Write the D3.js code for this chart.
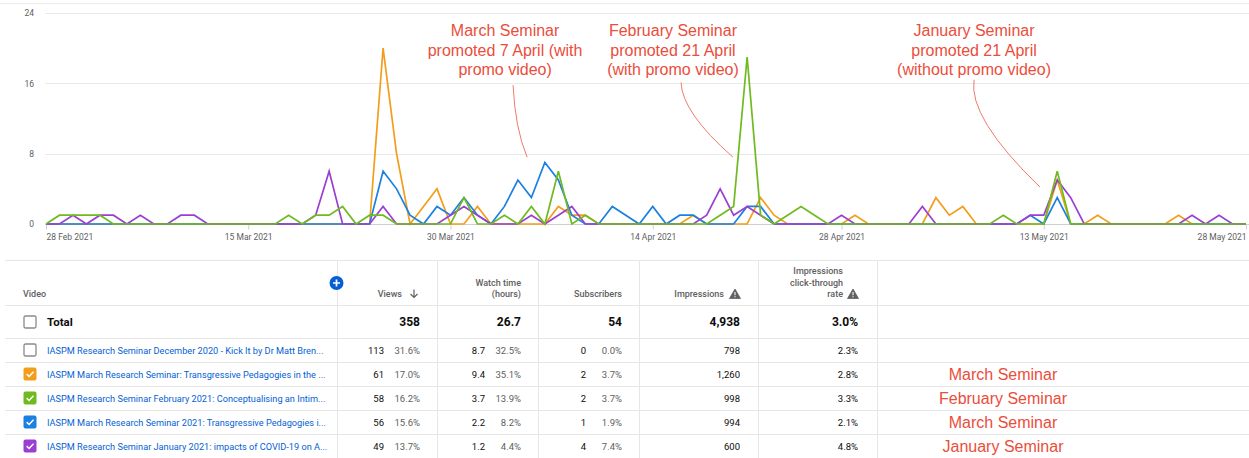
<!DOCTYPE html>
<html>
<head>
<meta charset="utf-8">
<script src="https://cdn.jsdelivr.net/npm/d3@7"></script>
<style>
  body { margin: 0; background: #fff; }
  svg { display: block; }
</style>
</head>
<body>
<svg id="chart" width="1249" height="458"></svg>
<script>
// daily views, 28 Feb 2021 .. 28 May 2021 (90 days)
const marchViews = [
  0,0,0,0,0,0,0,0,0,0,
  0,0,0,0,0,0,0,0,0,0,
  0,0,0,0,0,20,8,0,2,4,
  0,0,2,0,0,0,0,0,2,1,
  1,0,0,0,0,0,0,0,1,0,
  0,0,0,3,1,0,0,0,0,0,
  1,0,0,0,0,0,3,1,2,0,
  0,0,0,0,0,5,0,0,1,0,
  0,0,0,0,1,0,0,0,0,0
];
const februaryViews = [
  0,1,1,1,1,0,0,0,0,0,
  0,0,0,0,0,0,0,0,1,0,
  1,1,2,0,1,1,0,0,0,0,
  0,3,0,0,1,0,2,0,6,0,
  1,0,0,0,0,0,0,0,0,0,
  1,2,19,1,0,1,2,1,0,0,
  0,0,0,0,0,0,0,0,0,0,
  0,1,0,0,0,6,0,0,0,0,
  0,0,0,0,0,0,0,0,0,0
];
const march2021Views = [
  0,0,0,0,0,0,0,0,0,0,
  0,0,0,0,0,0,0,0,0,0,
  0,0,0,0,0,6,4,1,0,2,
  1,3,1,0,2,5,3,7,5,1,
  0,0,2,1,0,2,0,1,1,0,
  0,0,2,2,0,0,0,0,0,0,
  0,0,0,0,0,0,0,0,0,0,
  0,0,0,1,0,3,0,0,0,0,
  0,0,0,0,0,0,0,0,0,0
];
const januaryViews = [
  0,0,1,0,1,1,0,1,0,0,
  1,1,0,0,0,0,0,0,0,0,
  1,6,0,0,0,2,0,0,0,0,
  1,2,1,0,0,0,1,0,1,2,
  0,0,0,0,0,0,0,0,0,1,
  4,1,2,1,0,0,0,0,0,1,
  0,0,0,0,0,2,0,0,0,0,
  0,0,0,1,1,5,3,0,0,0,
  0,0,0,0,0,1,0,1,0,0
];

const xTickDates = ["2021-02-28","2021-03-15","2021-03-30","2021-04-14","2021-04-28","2021-05-13","2021-05-28"];
const yTickValues = [0, 8, 16, 24];

// table
const videoTitles = [
  "IASPM Research Seminar December 2020 - Kick It by Dr Matt Bren...",
  "IASPM March Research Seminar: Transgressive Pedagogies in the ...",
  "IASPM Research Seminar February 2021: Conceptualising an Intim...",
  "IASPM March Research Seminar 2021: Transgressive Pedagogies i...",
  "IASPM Research Seminar January 2021: impacts of COVID-19 on A..."
];
const views = [113, 61, 58, 56, 49];
const viewsShare = ["31.6%", "17.0%", "16.2%", "15.6%", "13.7%"];
const watchHours = ["8.7", "9.4", "3.7", "2.2", "1.2"];
const watchShare = ["32.5%", "35.1%", "13.9%", "8.2%", "4.4%"];
const subscribers = [0, 2, 2, 1, 4];
const subscribersShare = ["0.0%", "3.7%", "3.7%", "1.9%", "7.4%"];
const impressions = [798, 1260, 998, 994, 600];
const ctr = ["2.3%", "2.8%", "3.3%", "2.1%", "4.8%"];
const totals = ["358", "26.7", "54", "4,938", "3.0%"];
const rowNotes = ["", "March Seminar", "February Seminar", "March Seminar", "January Seminar"];

const annotations = [
  { lines: ["March Seminar", "promoted 7 April (with", "promo video)"], center: 34.05,
    from: [34.64, 15.8], ctrl: [34.79, 10.9], to: [35.68, 7.6] },
  { lines: ["February Seminar", "promoted 21 April", "(with promo video)"], center: 46.5,
    from: [47.1, 16.1], ctrl: [47.17, 12.7], to: [50.95, 7.6] },
  { lines: ["January Seminar", "promoted 21 April", "(without promo video)"], center: 68.83,
    from: [68.83, 16.4], ctrl: [68.38, 12.1], to: [73.72, 4.2] }
];

const ORANGE = "#f29e1c", GREEN = "#6fba1f", BLUE = "#1b80e0", PURPLE = "#9a3fd2";
const NOTE_RED = "#eb4d3b";
const GREY = "#606060";

const svg = d3.select("#chart");
svg.append("rect").attr("width", 1249).attr("height", 458).attr("fill", "#fff");

const day0 = new Date(Date.UTC(2021, 1, 28));
const dates = d3.range(90).map(i => d3.utcDay.offset(day0, i));
const dayPos = d => new Date(+day0 + d * 864e5);

const x = d3.scaleUtc().domain([day0, dates[89]]).range([46, 1246]);
const y = d3.scaleLinear().domain([0, 24]).range([224, 13]);

// top border
svg.append("line").attr("x1", 0).attr("x2", 1249).attr("y1", 3.5).attr("y2", 3.5)
  .attr("stroke", "#ededed");

// grid
svg.append("g").selectAll("line").data(yTickValues).join("line")
  .attr("x1", 45).attr("x2", 1249)
  .attr("y1", d => Math.round(y(d)) + 0.5).attr("y2", d => Math.round(y(d)) + 0.5)
  .attr("stroke", d => d === 0 ? "#cfcfcf" : "#e9e9e9");

// y axis
const yAxis = svg.append("g").attr("transform", "translate(37,0)")
  .call(d3.axisLeft(y).tickValues(yTickValues).tickSize(0).tickPadding(3));
yAxis.select(".domain").remove();
yAxis.selectAll("text").attr("fill", GREY).style("font", "8.5px Roboto");

// x axis
const parse = d3.utcParse("%Y-%m-%d");
const xAxis = svg.append("g").attr("transform", "translate(0,224.5)")
  .call(d3.axisBottom(x).tickValues(xTickDates.map(parse))
    .tickFormat(d3.utcFormat("%-d %b %Y")).tickSize(5).tickPadding(4));
xAxis.select(".domain").remove();
xAxis.selectAll("line").attr("stroke", "#d0d0d0");
xAxis.selectAll("text").attr("fill", GREY).style("font", "8.5px Roboto")
  .attr("text-anchor", (d, i) => i === 0 ? "start" : i === xTickDates.length - 1 ? "end" : "middle");

// series
const series = [
  { values: marchViews, color: ORANGE },
  { values: march2021Views, color: BLUE },
  { values: januaryViews, color: PURPLE },
  { values: februaryViews, color: GREEN }
];
const line = d3.line().x((d, i) => x(dates[i])).y(d => y(d));
svg.append("g").selectAll("path").data(series).join("path")
  .attr("d", s => line(s.values))
  .attr("fill", "none")
  .attr("stroke", s => s.color)
  .attr("stroke-width", 1.7)
  .attr("stroke-linejoin", "miter");

// annotations
const ann = svg.append("g");
annotations.forEach(a => {
  const t = ann.append("text").attr("text-anchor", "middle")
    .attr("fill", NOTE_RED).style("font", "16px 'Liberation Sans', Arial, sans-serif");
  a.lines.forEach((l, i) => {
    t.append("tspan").attr("x", x(dayPos(a.center))).attr("y", 36 + i * 19.5).text(l);
  });
  const p = d3.path();
  p.moveTo(x(dayPos(a.from[0])), y(a.from[1]));
  p.quadraticCurveTo(x(dayPos(a.ctrl[0])), y(a.ctrl[1]), x(dayPos(a.to[0])), y(a.to[1]));
  ann.append("path").attr("d", p.toString()).attr("fill", "none")
    .attr("stroke", "#f07a6c").attr("stroke-width", 1);
});

// ---------------- table ----------------
const tbl = svg.append("g");
const hLines = [260, 305, 338, 362, 386, 410, 434];
tbl.selectAll("line.h").data(hLines).join("line").attr("class", "h")
  .attr("x1", 5).attr("x2", 1249).attr("y1", d => d + 0.5).attr("y2", d => d + 0.5)
  .attr("stroke", "#e6e6e6");
const vLines = [337, 437, 538, 639, 758, 877];
tbl.selectAll("line.v").data(vLines).join("line").attr("class", "v")
  .attr("x1", d => d + 0.5).attr("x2", d => d + 0.5).attr("y1", 260).attr("y2", 458)
  .attr("stroke", "#e6e6e6");

const hdrFont = "500 9px Roboto";
function hText(xp, yp, s, anchor) {
  tbl.append("text").attr("x", xp).attr("y", yp).attr("text-anchor", anchor || "end")
    .attr("fill", GREY).style("font", hdrFont).text(s);
}
hText(23, 297, "Video", "start");
hText(402, 297, "Views");
hText(521, 286, "Watch time");
hText(521, 297, "(hours)");
hText(622, 297, "Subscribers");
hText(724, 297, "Impressions");
hText(843, 274, "Impressions");
hText(843, 286, "click-through");
hText(843, 297, "rate");

// sort arrow
tbl.append("path").attr("d", "M414,289.5V297.5M410.5,294L414,297.5L417.5,294")
  .attr("fill", "none").attr("stroke", GREY).attr("stroke-width", 1.2);
// warning triangles
[735, 853].forEach(cx => {
  tbl.append("path").attr("d", `M${cx},289L${cx + 5.5},298.5L${cx - 5.5},298.5Z`)
    .attr("fill", GREY).attr("stroke", GREY).attr("stroke-width", 0.8).attr("stroke-linejoin", "round");
  tbl.append("line").attr("x1", cx).attr("x2", cx).attr("y1", 292).attr("y2", 295.3)
    .attr("stroke", "#fff").attr("stroke-width", 1.1);
  tbl.append("rect").attr("x", cx - 0.55).attr("y", 296.2).attr("width", 1.1).attr("height", 1.1).attr("fill", "#fff");
});
// add-column button
tbl.append("circle").attr("cx", 336.5).attr("cy", 283).attr("r", 7).attr("fill", "#065fd4");
tbl.append("path").attr("d", "M336.5,279.5V286.5M333,283H340")
  .attr("stroke", "#fff").attr("stroke-width", 1.7);

function checkbox(cy, color) {
  const g = tbl.append("g").attr("transform", `translate(23.5,${cy - 6.5})`);
  if (color) {
    g.append("rect").attr("width", 13).attr("height", 13).attr("rx", 2).attr("fill", color);
    g.append("path").attr("d", "M3.2,6.6L5.6,9L10,4.3").attr("fill", "none")
      .attr("stroke", "#fff").attr("stroke-width", 1.5);
  } else {
    g.append("rect").attr("x", 0.5).attr("y", 0.5).attr("width", 12).attr("height", 12).attr("rx", 1.5)
      .attr("fill", "#fff").attr("stroke", "#8a8a8a").attr("stroke-width", 1.3);
  }
}

// total row
checkbox(322, null);
tbl.append("text").attr("x", 47).attr("y", 326).attr("fill", "#0d0d0d")
  .style("font", "bold 11.5px Roboto").text("Total");
[420, 521, 622, 740, 858].forEach((xp, i) => {
  tbl.append("text").attr("x", xp).attr("y", 326).attr("text-anchor", "end")
    .attr("fill", "#0d0d0d").style("font", "bold 12px Roboto").text(totals[i]);
});

const rowColors = [null, ORANGE, GREEN, BLUE, PURPLE];
const fmt = d3.format(",");
const cell = "9.5px Roboto";
videoTitles.forEach((title, i) => {
  const cy = 350 + i * 24;
  const by = cy + 3.5;
  checkbox(cy, rowColors[i]);
  tbl.append("text").attr("x", 47).attr("y", by).attr("fill", "#065fd4")
    .style("font", "9.2px Roboto").text(title);
  const cells = [
    [384, views[i], "#0d0d0d"], [420, viewsShare[i], GREY],
    [485, watchHours[i], "#0d0d0d"], [521, watchShare[i], GREY],
    [586, subscribers[i], "#0d0d0d"], [622, subscribersShare[i], GREY],
    [740, fmt(impressions[i]), "#0d0d0d"], [858, ctr[i], "#0d0d0d"]
  ];
  cells.forEach(c => {
    tbl.append("text").attr("x", c[0]).attr("y", by).attr("text-anchor", "end")
      .attr("fill", c[2]).style("font", cell).text(c[1]);
  });
  if (rowNotes[i]) {
    tbl.append("text").attr("x", 1003).attr("y", cy + 5.8).attr("text-anchor", "middle")
      .attr("fill", NOTE_RED).style("font", "16px 'Liberation Sans', Arial, sans-serif")
      .text(rowNotes[i]);
  }
});
</script>
</body>
</html>
